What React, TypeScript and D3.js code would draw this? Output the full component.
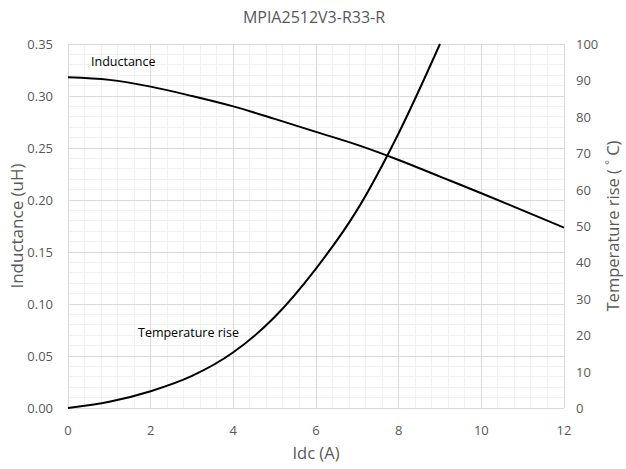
import React, { useEffect, useRef } from 'react'
import * as d3 from 'd3'

const idc = [0, 1, 2, 3, 4, 5, 6, 7, 8, 9, 10, 11, 12]
const inductance = [0.318, 0.3155, 0.309, 0.3, 0.29, 0.278, 0.2655, 0.253, 0.2385, 0.2225, 0.2065, 0.19, 0.1735]
const tempIdc = [0, 1, 2, 3, 4, 5, 6, 7, 8, 9]
const tempRise = [0, 1.7, 4.6, 8.8, 15.3, 25, 38.3, 54.5, 75.5, 100]
const xTicks = [0, 2, 4, 6, 8, 10, 12]
const leftTicks = [0, 0.05, 0.1, 0.15, 0.2, 0.25, 0.3, 0.35]
const rightTicks = [0, 10, 20, 30, 40, 50, 60, 70, 80, 90, 100]

const W = 626
const H = 469
const FONT = '"Open Sans", "Liberation Sans", sans-serif'

export default function App() {
  const ref = useRef<SVGSVGElement>(null)

  useEffect(() => {
    const svg = d3.select(ref.current).html('')
    const left = 68, right = 564, top = 44, bottom = 408

    const x = d3.scaleLinear().domain([0, 12]).range([left, right])
    const yL = d3.scaleLinear().domain([0, 0.35]).range([bottom, top])
    const yR = d3.scaleLinear().domain([0, 100]).range([bottom, top])

    svg.append('rect').attr('width', W).attr('height', H).attr('fill', '#fff')

    // minor grid
    const g = svg.append('g')
    d3.range(0, 12.001, 0.4).forEach(v => {
      g.append('line').attr('x1', x(v)).attr('x2', x(v)).attr('y1', top).attr('y2', bottom)
        .attr('stroke', '#f0f0f0').attr('stroke-width', 1).attr('shape-rendering', 'crispEdges')
    })
    d3.range(0, 0.3501, 0.01).forEach(v => {
      g.append('line').attr('x1', left).attr('x2', right).attr('y1', yL(v)).attr('y2', yL(v))
        .attr('stroke', '#f0f0f0').attr('stroke-width', 1).attr('shape-rendering', 'crispEdges')
    })
    // major grid
    xTicks.forEach(v => {
      g.append('line').attr('x1', x(v)).attr('x2', x(v)).attr('y1', top).attr('y2', bottom)
        .attr('stroke', '#d9d9d9').attr('stroke-width', 1).attr('shape-rendering', 'crispEdges')
    })
    leftTicks.forEach(v => {
      g.append('line').attr('x1', left).attr('x2', right).attr('y1', yL(v)).attr('y2', yL(v))
        .attr('stroke', '#d9d9d9').attr('stroke-width', 1).attr('shape-rendering', 'crispEdges')
    })

    // tick labels
    const txt = (sel: any) => sel.attr('font-family', FONT).attr('font-size', 13).attr('fill', '#595959')
    xTicks.forEach(v => {
      svg.append('text').call(txt).attr('x', x(v)).attr('y', 435).attr('text-anchor', 'middle').text(v)
    })
    leftTicks.forEach(v => {
      svg.append('text').call(txt).attr('x', 53).attr('y', yL(v) + 5).attr('text-anchor', 'end').text(d3.format('.2f')(v))
    })
    rightTicks.forEach(v => {
      svg.append('text').call(txt).attr('x', 576).attr('y', yR(v) + 5).attr('text-anchor', 'start').text(v)
    })

    // series
    const lineL = d3.line<number>().x((d, i) => x(idc[i])).y(d => yL(d)).curve(d3.curveCatmullRom.alpha(0.5))
    const lineT = d3.line<number>().x((d, i) => x(tempIdc[i])).y(d => yR(d)).curve(d3.curveMonotoneX)
    svg.append('path').attr('d', lineL(inductance)).attr('fill', 'none').attr('stroke', '#000').attr('stroke-width', 2)
    svg.append('path').attr('d', lineT(tempRise)).attr('fill', 'none').attr('stroke', '#000').attr('stroke-width', 2)

    // series labels
    svg.append('text').attr('font-family', FONT).attr('font-size', 12.5).attr('fill', '#000')
      .attr('x', 91).attr('y', 66).text('Inductance')
    svg.append('text').attr('font-family', FONT).attr('font-size', 12.5).attr('fill', '#000')
      .attr('x', 138).attr('y', 337).text('Temperature rise')

    // titles
    svg.append('text').attr('font-family', FONT).attr('font-size', 16).attr('fill', '#595959')
      .attr('x', 314).attr('y', 23).attr('text-anchor', 'middle').text('MPIA2512V3-R33-R')
    svg.append('text').attr('font-family', FONT).attr('font-size', 16.5).attr('fill', '#595959')
      .attr('x', 316).attr('y', 459).attr('text-anchor', 'middle').text('Idc (A)')
    svg.append('text').attr('font-family', FONT).attr('font-size', 17).attr('fill', '#595959')
      .attr('transform', `translate(23, ${(top + bottom) / 2}) rotate(-90)`).attr('text-anchor', 'middle')
      .text('Inductance (uH)')
    const rt = svg.append('text').attr('font-family', FONT).attr('font-size', 16.5).attr('fill', '#595959')
      .attr('transform', `translate(619, ${(top + bottom) / 2}) rotate(-90)`).attr('text-anchor', 'middle')
    rt.append('tspan').text('Temperature rise (  ')
    rt.append('tspan').attr('font-size', 11).attr('dy', -6).text('°')
    rt.append('tspan').attr('dy', 6).text('  C)')
  }, [])

  return (
    <svg ref={ref} width={W} height={H} style={{ position: 'absolute', left: 0, top: 0 }} />
  )
}
